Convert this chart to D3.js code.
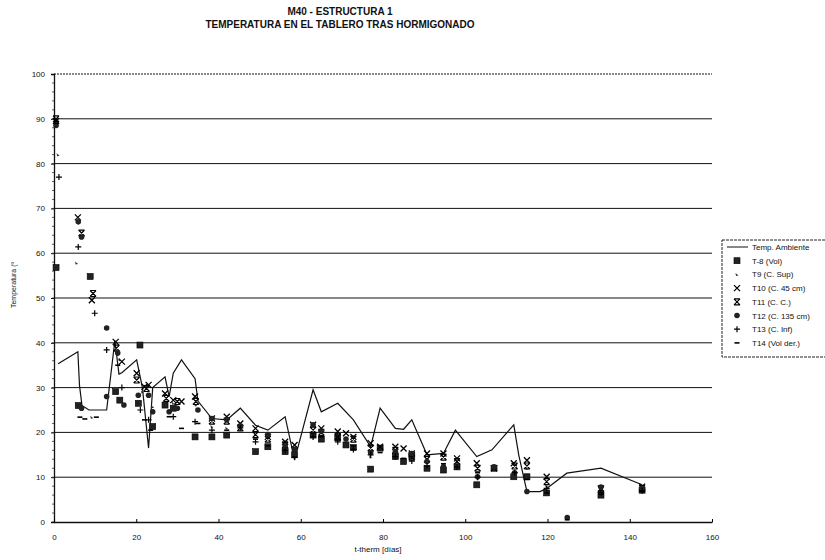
<!DOCTYPE html>
<html><head><meta charset="utf-8">
<script src="https://cdn.jsdelivr.net/npm/d3@7"></script>
<style>body{margin:0;background:#fff}svg{display:block}text{font-family:"Liberation Sans",Arial,sans-serif;fill:#111}</style>
</head><body>
<svg id="c" width="825" height="560"></svg>
<script>
// ---------- data ----------
const titleLines = ["M40 - ESTRUCTURA 1", "TEMPERATURA EN EL TABLERO TRAS HORMIGONADO"];
const xTicks = [0, 20, 40, 60, 80, 100, 120, 140, 160];
const yTicks = [0, 10, 20, 30, 40, 50, 60, 70, 80, 90, 100];
const ambient = [[1,35.3],[5.8,38],[6.2,30.5],[6.8,26],[8.5,25],[12.8,25],[14.8,40.5],[15.8,33],[16.5,33.3],[20.1,36.2],[21.5,30],[23,16.5],[24,30],[27,32.4],[28,28],[29,33.2],[31,36.2],[34.3,32],[35,27],[38.4,23.1],[42,22.8],[45.3,25.4],[49,21.6],[52,20.5],[56.2,23.5],[58.5,13.8],[63,29.5],[65,24.6],[69,26.5],[72.8,22.8],[77,16.8],[79.3,25.4],[83,20.9],[85,20.7],[87,22.8],[90.7,15],[94.7,15.3],[97.6,20.5],[102.8,14.6],[106.5,16.1],[111.8,21.7],[113,15],[115,6.8],[118.2,6.8],[119.8,7.5],[124.7,10.9],[133,12],[143,8.3]];
const t8 = [[0.5,56.8],[5.9,26],[8.8,54.8],[15,29.1],[16,27.2],[20.9,39.5],[20.5,26.5],[24,21.3],[27,26.1],[29,25.4],[34.3,19],[38.4,19],[42,19.4],[49,15.7],[52,16.8],[56.2,15.7],[58.5,15],[63,19.4],[65,18.5],[69,18.8],[71,17.2],[72.8,16.6],[77,11.8],[79.3,16.5],[83,14.6],[85,13.5],[87,14.8],[90.7,12],[94.7,11.6],[98,12.3],[102.8,8.3],[107,12],[111.8,10.1],[115,10.1],[119.8,6.5],[133,6],[143,7.1]];
const t9 = [[1,82],[5.5,57.8],[9.2,23.4],[16,36.2],[21.5,29],[24,25.7],[29,26.5],[34.5,26.1],[38.4,21.3],[42,21],[49,19.5],[56.2,17.2],[63,20],[69,19.8],[77,14.5],[83,16],[90.7,13.5],[98,13.5],[107,12.5],[115,12],[119.8,8],[133,7],[143,7.5]];
const t10 = [[0.5,89.5],[5.8,68],[9.2,49.5],[15,40.2],[16.5,35.8],[20.1,33.2],[22,30.2],[23,30.6],[27,28.7],[29,27.2],[31,26.9],[34.3,28],[38.4,23.1],[42,23.5],[45.3,22],[49,20.9],[52,19],[56.2,17.9],[58.5,17.2],[63,21.7],[65,20.9],[69,20.2],[71,19.8],[72.8,19],[77,17.6],[79.3,16.8],[83,16.8],[85,16.4],[87,15.3],[90.7,15.3],[94.7,15.3],[98,14.2],[102.8,13.1],[107,12],[111.8,13.1],[115,13.8],[119.8,10.1],[133,7.5],[143,7.9]];
const t11 = [[0.5,90],[6.7,64.5],[9.5,51],[15.2,38.8],[20.1,31.7],[22.5,29.8],[27.3,27.6],[30,26.9],[34.5,26.9],[38.4,22.5],[42,22.5],[45.3,21],[49,19.5],[52,18.5],[56.2,17.2],[63,20.5],[65,20],[69,19],[72.8,18.5],[77,16.5],[83,16],[87,14.5],[90.7,14],[94.7,14.5],[98,13.5],[103,12],[112,12.5],[115,12.5],[119.8,9],[133,7.3],[143,7.5]];
const t12 = [[0.5,88.5],[5.9,67],[6.7,63.6],[6.7,25.4],[12.8,43.3],[12.8,28],[15.5,37.7],[17,26.1],[20.5,28.3],[23,28.3],[24,24.6],[28,24.6],[30,25.4],[35,25],[38.4,23.1],[42,22.8],[45.3,21.5],[52,19.5],[56.2,17],[58.5,16.2],[63,21.7],[65,20.3],[71,18.5],[77,15.5],[83,15.7],[87,15.3],[90.7,13.5],[94.7,12.3],[98,12.5],[103,10.1],[107,12.3],[112,11],[115,6.8],[124.8,1],[133,7.8],[143,7.5]];
const t13 = [[1.2,77],[5.9,61.4],[9.9,46.6],[12.8,38.4],[16.5,30],[21,25],[23,22.8],[29,23.5],[34.3,22.4],[38.4,20.5],[45.3,21],[49,17.9],[56.2,16],[63,19],[69,17.9],[72.8,16.2],[77,15],[83,14.6],[87,13.6],[90.7,12.5],[98,12.3],[103,10],[112,11],[119.8,7.5],[133,6.5],[143,7]];
const t14 = [[0.6,89],[6.3,23.4],[7.5,23],[10.3,23.4],[15.5,35],[22,22.8],[23.5,20.5],[28,23.5],[31,20.9],[35,22],[42,20.5],[49,18.5],[52,17],[58.5,14.5],[65,19],[72.8,17],[79.3,15.5],[85,14.2],[94.7,13],[103,11],[115,9.5],[119.8,6.5],[124.8,0.5],[133,6.2],[143,6.8]];
const seriesNames = ["T-8 (Vol)", "T9 (C. Sup)", "T10 (C. 45 cm)", "T11 (C. C.)", "T12 (C. 135 cm)", "T13 (C. Inf)", "T14 (Vol der.)"];
const seriesMarks = ["square", "tri", "x", "star", "circle", "plus", "dash"];
const seriesData = [t8, t9, t10, t11, t12, t13, t14];

// ---------- chart ----------
const svg = d3.select("#c");
const m = {l: 54, r: 712, t: 74, b: 522};
const x = d3.scaleLinear().domain([0, 160]).range([m.l, m.r]);
const y = d3.scaleLinear().domain([0, 100]).range([m.b, m.t]);

svg.append("g").selectAll("text").data(titleLines).join("text")
  .attr("x", 340).attr("y", (d, i) => 15 + i * 13).attr("text-anchor", "middle")
  .attr("font-size", 10).attr("font-weight", "bold").text(d => d);

// gridlines
svg.append("g").selectAll("line").data(yTicks.filter(v => v > 0)).join("line")
  .attr("x1", m.l).attr("x2", m.r).attr("y1", d => y(d)).attr("y2", d => y(d))
  .attr("stroke", "#111").attr("stroke-width", 1)
  .attr("stroke-dasharray", d => d === 100 ? "2,1" : null);

// y axis
const yAxis = svg.append("g").attr("transform", `translate(${m.l},0)`)
  .call(d3.axisLeft(y).tickValues(yTicks).tickSize(3).tickPadding(6));
yAxis.select(".domain").attr("stroke", "#111").attr("stroke-width", 1.3);
yAxis.selectAll("text").attr("font-size", 8).attr("font-family", "Liberation Sans, Arial, sans-serif");
// minor ticks on y axis
svg.append("g").selectAll("line").data(d3.range(0, 100, 2)).join("line")
  .attr("x1", m.l - 2).attr("x2", m.l).attr("y1", d => y(d)).attr("y2", d => y(d))
  .attr("stroke", "#333").attr("stroke-width", 0.8);

// x axis
const xAxis = svg.append("g").attr("transform", `translate(0,${m.b})`)
  .call(d3.axisBottom(x).tickValues(xTicks).tickSizeInner(-3).tickSizeOuter(0).tickPadding(12));
xAxis.select(".domain").attr("stroke", "#111").attr("stroke-width", 1.3);
xAxis.selectAll("text").attr("font-size", 8).attr("font-family", "Liberation Sans, Arial, sans-serif");

// axis titles
svg.append("text").attr("x", 378).attr("y", 552).attr("text-anchor", "middle")
  .attr("font-size", 8).text("t-therm [días]");
svg.append("text").attr("transform", "translate(16,285) rotate(-90)").attr("text-anchor", "middle")
  .attr("font-size", 7).text("Temperatura (º");

// ambient line
const line = d3.line().x(d => x(d[0])).y(d => y(d[1]));
svg.append("path").datum(ambient).attr("d", line)
  .attr("fill", "none").attr("stroke", "#111").attr("stroke-width", 1.2);

function drawMark(g, type, cx, cy) {
  const s = 3;
  if (type === "square") {
    g.append("rect").attr("x", cx - s).attr("y", cy - s).attr("width", 2 * s).attr("height", 2 * s)
      .attr("fill", "#222").attr("stroke", "#000").attr("stroke-width", 0.6);
  } else if (type === "tri") {
    g.append("path").attr("d", `M${cx - 1.5},${cy - 1.5}L${cx + 1.5},${cy + 1}L${cx - 1},${cy + 1.5}Z`).attr("fill", "#333");
  } else if (type === "x") {
    g.append("path").attr("d", `M${cx - s},${cy - s}L${cx + s},${cy + s}M${cx - s},${cy + s}L${cx + s},${cy - s}`)
      .attr("stroke", "#000").attr("stroke-width", 1.3);
  } else if (type === "star") {
    g.append("path").attr("d", `M${cx - s},${cy - s}L${cx + s},${cy + s}M${cx - s},${cy + s}L${cx + s},${cy - s}M${cx - s},${cy - s}H${cx + s}M${cx - s},${cy + s}H${cx + s}`)
      .attr("stroke", "#000").attr("stroke-width", 1.2);
  } else if (type === "circle") {
    g.append("circle").attr("cx", cx).attr("cy", cy).attr("r", 2.8).attr("fill", "#222");
  } else if (type === "plus") {
    g.append("path").attr("d", `M${cx - s},${cy}H${cx + s}M${cx},${cy - s}V${cy + s}`)
      .attr("stroke", "#000").attr("stroke-width", 1.2);
  } else if (type === "dash") {
    g.append("path").attr("d", `M${cx - 2.5},${cy}H${cx + 2.5}`).attr("stroke", "#000").attr("stroke-width", 1.6);
  }
}

const pts = svg.append("g");
seriesData.forEach((data, i) => {
  data.forEach(d => drawMark(pts, seriesMarks[i], x(d[0]), y(d[1])));
});

// legend
const lg = svg.append("g");
lg.append("rect").attr("x", 722).attr("y", 240).attr("width", 110).attr("height", 117)
  .attr("fill", "#fff").attr("stroke", "#222").attr("stroke-width", 1).attr("stroke-dasharray", "3,1");
const ly = d => 247 + d * 13.7;
lg.append("line").attr("x1", 727).attr("x2", 748).attr("y1", ly(0)).attr("y2", ly(0)).attr("stroke", "#111").attr("stroke-width", 1);
lg.append("text").attr("x", 752).attr("y", ly(0) + 3).attr("font-size", 8).text("Temp. Ambiente");
seriesNames.forEach((n, i) => {
  drawMark(lg, seriesMarks[i], 737, ly(i + 1));
  lg.append("text").attr("x", 752).attr("y", ly(i + 1) + 3).attr("font-size", 8).text(n);
});
</script>
</body></html>
